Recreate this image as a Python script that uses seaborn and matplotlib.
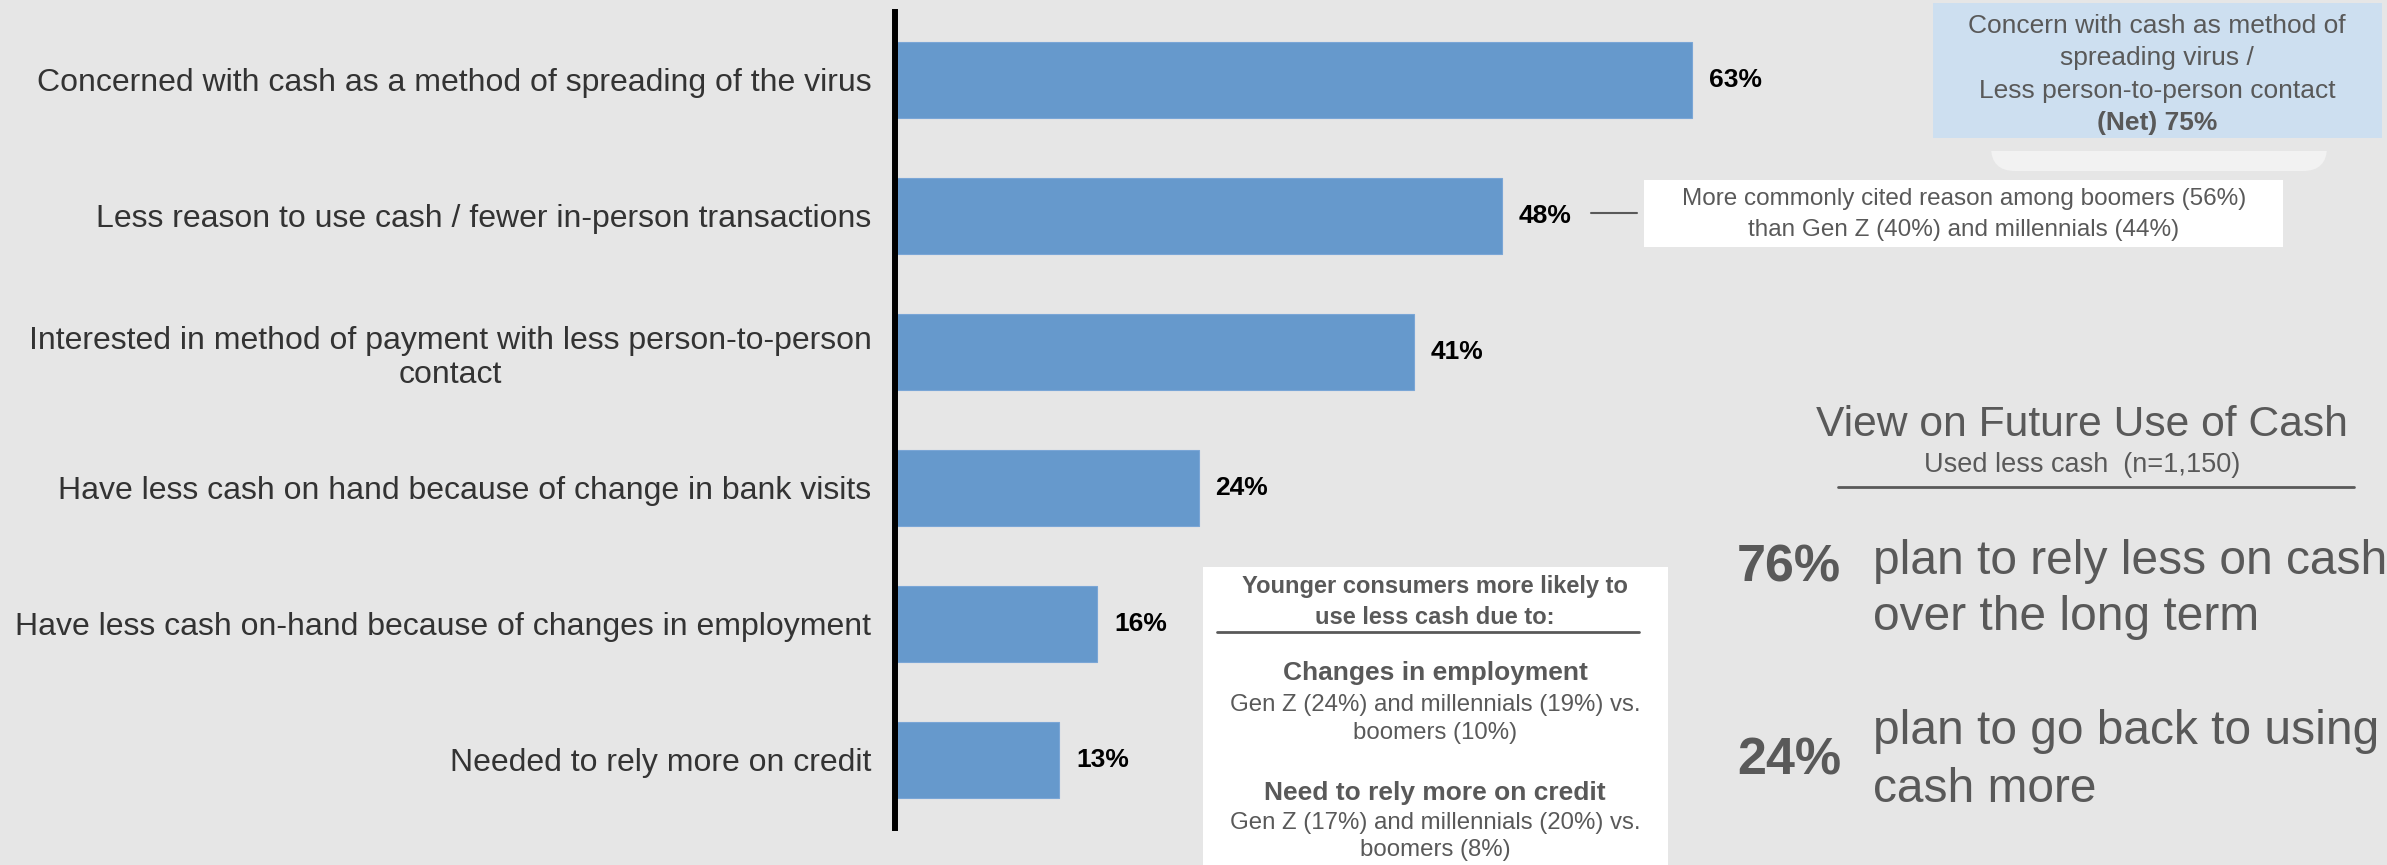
import matplotlib
matplotlib.use("Agg")
import matplotlib.pyplot as plt
import seaborn as sns
import pandas as pd
from matplotlib.patches import Rectangle, FancyBboxPatch

# ---- data ----
reasons = [
    "Concerned with cash as a method of spreading of the virus",
    "Less reason to use cash / fewer in-person transactions",
    "Interested in method of payment with less person-to-person\ncontact",
    "Have less cash on hand because of change in bank visits",
    "Have less cash on-hand because of changes in employment",
    "Needed to rely more on credit",
]
shares = [63, 48, 41, 24, 16, 13]

net_lines = ["Concern with cash as method of", "spreading virus /",
             "Less person-to-person contact"]
net_value = "(Net) 75%"

boomer_note = ["More commonly cited reason among boomers (56%)",
               "than Gen Z (40%) and millennials (44%)"]

younger_header = ["Younger consumers more likely to", "use less cash due to:"]
younger_items = [
    ("Changes in employment",
     ["Gen Z (24%) and millennials (19%) vs.", "boomers (10%)"]),
    ("Need to rely more on credit",
     ["Gen Z (17%) and millennials (20%) vs.", "boomers (8%)"]),
]

future_title = "View on Future Use of Cash"
future_sub = "Used less cash  (n=1,150)"
future_stats = [("76%", ["plan to rely less on cash", "over the long term"]),
                ("24%", ["plan to go back to using", "cash more"])]

# ---- style ----
BG = "#e6e6e6"
BAR = "#6699cc"
GREY = "#595959"

sns.set_theme(style="white", rc={"figure.facecolor": BG, "axes.facecolor": BG})
plt.rcParams["font.family"] = ["Liberation Sans", "DejaVu Sans"]

W, H = 2387, 865
fig = plt.figure(figsize=(W / 100, H / 100), dpi=100)

# ---- bar chart ----
ax = fig.add_axes([895 / W, 1 - 828 / H, 1265 / W, (828 - 12) / H])
df = pd.DataFrame({"reason": reasons, "share": shares})
sns.barplot(data=df, x="share", y="reason", orient="h", color=BAR,
            saturation=1, width=0.565, edgecolor="#7aa6d6", linewidth=0.8,
            ax=ax)
ax.set_xlim(0, 100)
ax.set_ylim(len(reasons) - 0.5, -0.5)
ax.set_xlabel("")
ax.set_ylabel("")
ax.set_xticks([])
for s in ["top", "right", "bottom"]:
    ax.spines[s].set_visible(False)
ax.spines["left"].set_color("black")
ax.spines["left"].set_linewidth(4.3)
ax.spines["left"].set_zorder(5)
ax.tick_params(axis="y", length=0, pad=17, labelsize=23, labelcolor="#333333")
for lab in ax.get_yticklabels():
    lab.set_multialignment("center")

for cont in ax.containers:
    ax.bar_label(cont, labels=[f"{v:.0f}%" for v in cont.datavalues],
                 padding=12, fontsize=19, fontweight="bold", color="black")

# ---- overlay in pixel units for the side panels ----
ov = fig.add_axes([0, 0, 1, 1])
ov.set_xlim(0, W)
ov.set_ylim(H, 0)
ov.axis("off")

# net box (top right) with a tab underneath
ov.add_patch(FancyBboxPatch((1991, 121), 336, 50,
                            boxstyle="round,pad=0,rounding_size=24",
                            facecolor="#f2f2f2", edgecolor="none", zorder=1))
ov.add_patch(Rectangle((1933, 121), 449, 30, facecolor=BG,
                       edgecolor="none", zorder=1.5))
ov.add_patch(Rectangle((1933, 3), 449, 135, facecolor="#cddff0",
                       edgecolor="none", zorder=2))
for txt, y in zip(net_lines, [26, 58, 91]):
    ov.text(2157, y, txt, ha="center", va="center", fontsize=19,
            color=GREY, zorder=3)
ov.text(2157, 123, net_value, ha="center", va="center", fontsize=19,
        fontweight="bold", color=GREY, zorder=3)

# boomer note
ov.add_patch(Rectangle((1644, 180), 639, 67, facecolor="white",
                       edgecolor="none", zorder=2))
ov.plot([1591, 1637], [213, 213], color=GREY, lw=1.5)
for txt, y in zip(boomer_note, [199, 230]):
    ov.text(1964, y, txt, ha="center", va="center", fontsize=17.5,
            color=GREY, zorder=3)

# younger consumers box
ov.add_patch(Rectangle((1203, 567), 465, H - 567, facecolor="white",
                       edgecolor="none", zorder=2))
cx = 1435
for txt, y in zip(younger_header, [587, 617]):
    ov.text(cx, y, txt, ha="center", va="center", fontsize=17,
            fontweight="bold", color=GREY, zorder=3)
ov.plot([1217, 1639], [632, 632], color=GREY, lw=2, zorder=3)
for (head, body), (yh, yb) in zip(younger_items, [(673, [705, 733]),
                                                 (793, [823, 850])]):
    ov.text(cx, yh, head, ha="center", va="center", fontsize=19,
            fontweight="bold", color=GREY, zorder=3)
    for txt, y in zip(body, yb):
        ov.text(cx, y, txt, ha="center", va="center", fontsize=17.3,
                color=GREY, zorder=3)

# future use panel
ov.text(2082, 425, future_title, ha="center", va="center",
        fontsize=30.7, color=GREY)
ov.text(2082, 465, future_sub, ha="center", va="center",
        fontsize=19.5, color=GREY)
ov.plot([1838, 2354], [487, 487], color=GREY, lw=2)
for (val, lines), yv, ys in zip(future_stats, [568, 761],
                                [[562, 617], [732, 790]]):
    ov.text(1737, yv, val, ha="left", va="center", fontsize=37.5,
            fontweight="bold", color=GREY)
    for txt, y in zip(lines, ys):
        ov.text(1873, y, txt, ha="left", va="center", fontsize=34.5,
                color=GREY)

fig.savefig("out.png", dpi=100, facecolor=BG)
